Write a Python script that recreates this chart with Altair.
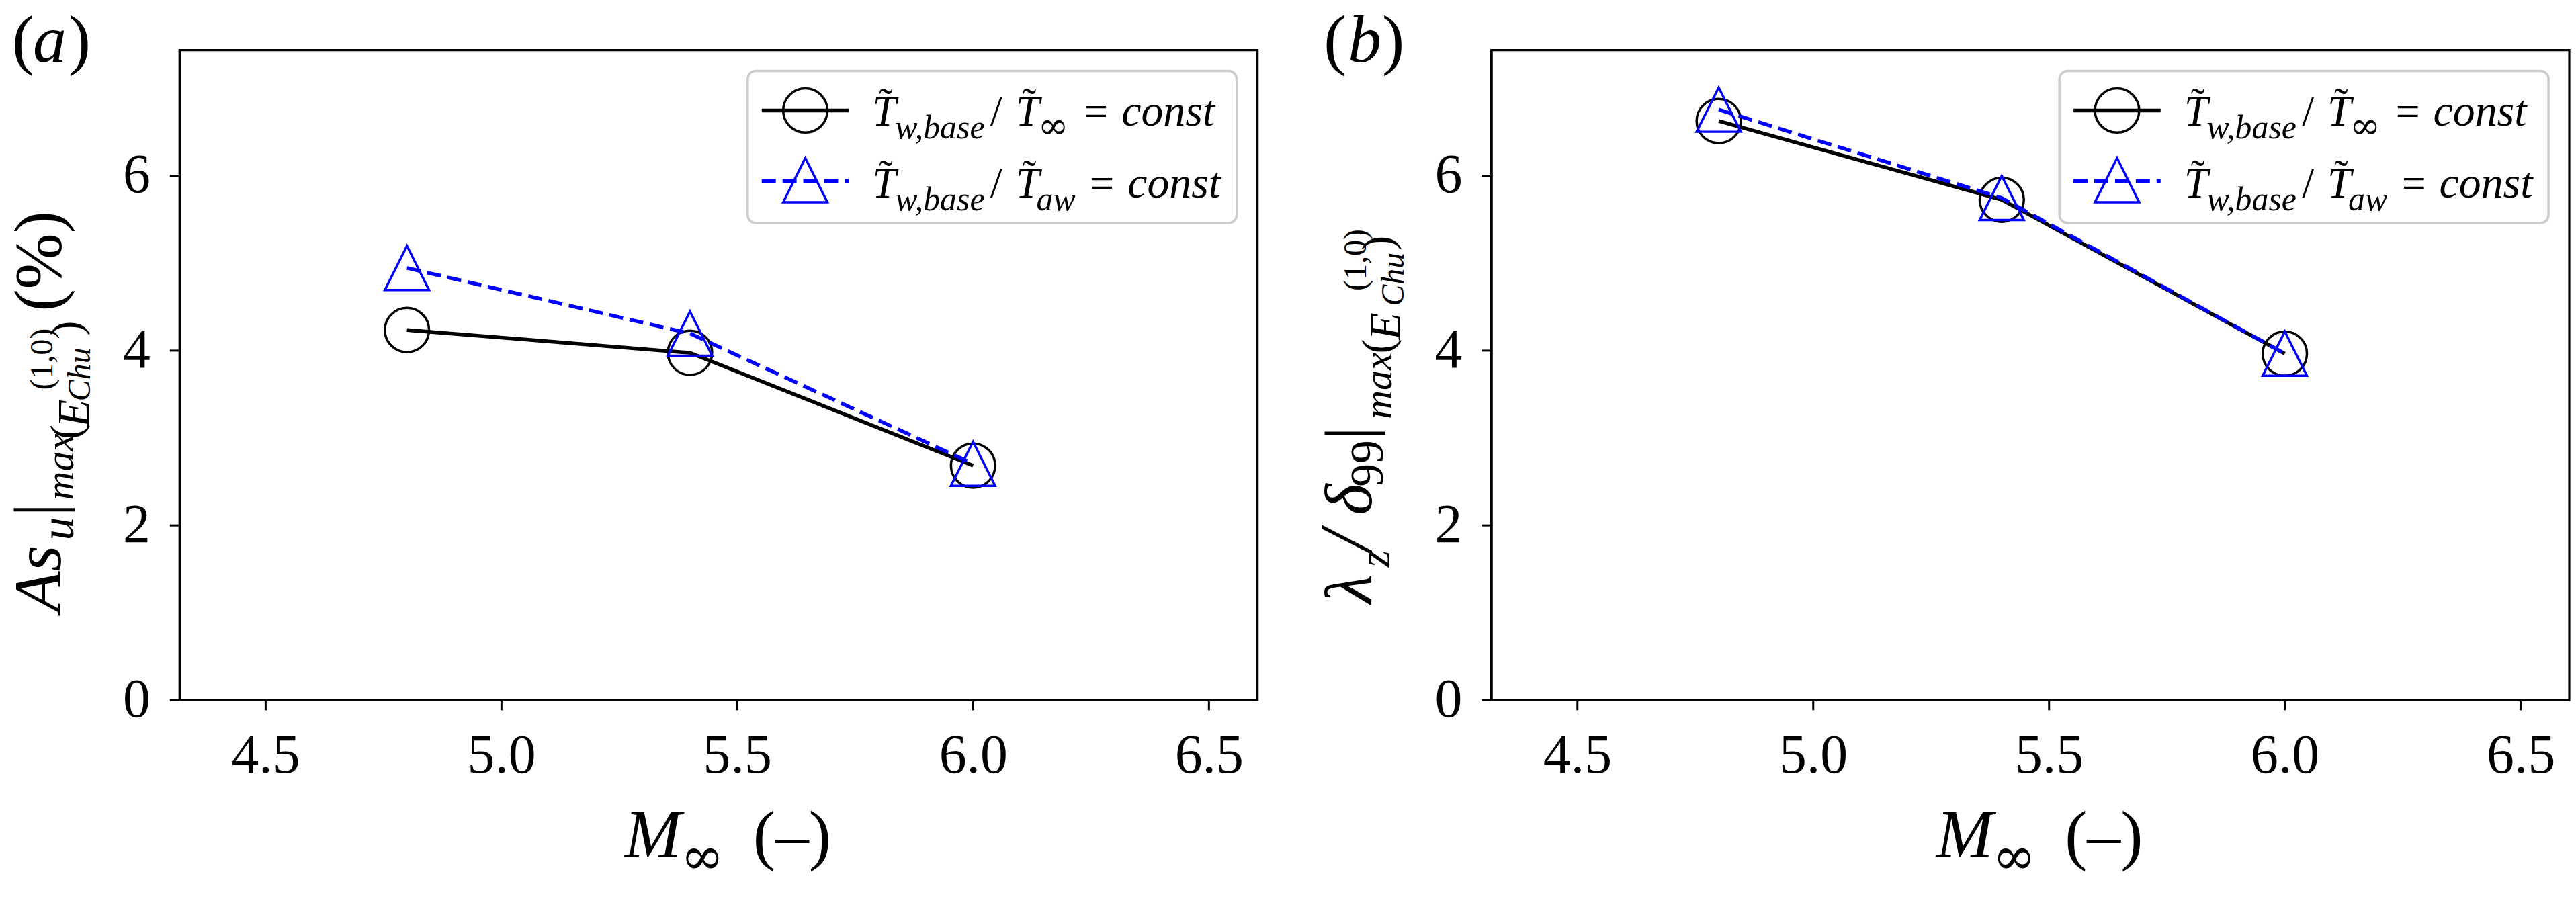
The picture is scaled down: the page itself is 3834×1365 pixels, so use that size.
import altair as alt
import pandas as pd

# ---------------- data ----------------
mach = [4.8, 5.4, 6.0]
asu_tinf = [4.23, 3.97, 2.68]
asu_taw = [4.94, 4.19, 2.70]
lam_tinf = [6.62, 5.72, 3.96]
lam_taw = [6.75, 5.74, 3.96]

x_ticks = [4.5, 5.0, 5.5, 6.0, 6.5]
y_ticks = [0, 2, 4, 6]
X_DOMAIN = [4.318, 6.603]
Y_DOMAIN = [0, 7.43]

# ---------------- style ----------------
W, H = 1609, 970
SERIF = "Liberation Serif"
SYM = "DejaVu Serif"
BLACK = "#000000"
BLUE = "#0000ff"
TRI = "M0,-1L-1,1L1,1Z"
MS = 66
LW = 5.5
DASH = [21, 10]

ONE = alt.Data(values=[{"k": 0}])


def txt(s, x, y, size, italic=False, angle=0, font=SERIF, color=BLACK):
    return alt.Chart(ONE).mark_text(
        text=s, font=font, fontSize=size,
        fontStyle="italic" if italic else "normal",
        angle=angle, align="left", baseline="alphabetic", color=color,
    ).encode(x=alt.value(x), y=alt.value(y))


def enc_x():
    return alt.X("M:Q", scale=alt.Scale(domain=X_DOMAIN, nice=False, zero=False),
                 axis=alt.Axis(values=x_ticks, format=".1f", title=None))


def enc_y():
    return alt.Y("v:Q", scale=alt.Scale(domain=Y_DOMAIN, nice=False, zero=False),
                 axis=alt.Axis(values=y_ticks, format="d", title=None))


def series_layers(vals, color, shape, dashed):
    df = pd.DataFrame({"M": mach, "v": vals})
    line_kw = dict(color=color, strokeWidth=LW)
    if dashed:
        line_kw["strokeDash"] = DASH
    line = alt.Chart(df).mark_line(**line_kw).encode(x=enc_x(), y=enc_y())
    pts = alt.Chart(df).mark_point(
        shape=shape, size=MS * MS, filled=False, stroke=color,
        strokeWidth=3.5, opacity=1,
    ).encode(x=enc_x(), y=enc_y())
    return [line, pts]


def legend_layers():
    box = alt.Chart(ONE).mark_rect(
        fill="white", fillOpacity=0.8, stroke="#cccccc", strokeWidth=3.5,
        cornerRadius=12,
    ).encode(x=alt.value(848), x2=alt.value(1578), y=alt.value(31), y2=alt.value(258))
    l1 = alt.Chart(ONE).mark_rule(color=BLACK, strokeWidth=LW).encode(
        x=alt.value(869), x2=alt.value(999), y=alt.value(90))
    p1 = alt.Chart(ONE).mark_point(shape="circle", size=MS * MS, filled=False,
                                   stroke=BLACK, strokeWidth=3.5, opacity=1).encode(
        x=alt.value(934), y=alt.value(90))
    l2 = alt.Chart(ONE).mark_rule(color=BLUE, strokeWidth=LW, strokeDash=DASH).encode(
        x=alt.value(869), x2=alt.value(999), y=alt.value(195))
    p2 = alt.Chart(ONE).mark_point(shape=TRI, size=MS * MS, filled=False,
                                   stroke=BLUE, strokeWidth=3.5, opacity=1).encode(
        x=alt.value(934), y=alt.value(194))
    out = [box, l1, p1, l2, p2]
    rows = [(113, 132, "\u221e", SYM, 56, 1281, 1350, 1406),
            (220, 239, "aw", SERIF, 50, 1279, 1359, 1415)]
    for base, sub, s2, f2, sz2, x2, xeq, xc in rows:
        out += [
            txt("T", 1034, base, 64, italic=True),
            txt("\u02dc", 1044, base - 13, 62),
            txt("w,base", 1068, sub, 50, italic=True),
            txt("/", 1210, base, 64),
            txt("T", 1248, base, 64, italic=True),
            txt("\u02dc", 1258, base - 13, 62),
            txt(s2, x2, sub, sz2, italic=(s2 == "aw"), font=f2),
            txt("=", xeq, base, 64),
            txt("const", xc, base, 66, italic=True),
        ]
    return out


def xtitle_layers():
    return [
        txt("M", 664, 1205, 102, italic=True),
        txt("\u221e", 748, 1230, 78, font=SYM),
        txt("(\u2013)", 856, 1205, 100),
    ]


def ytitle_a():
    A = 270
    return [
        txt("As", -178, 839, 100, italic=True, angle=A),
        txt("u", -159, 732, 70, italic=True, angle=A),
        txt("|", -178, 696, 100, angle=A),
        txt("max", -159, 672, 60, italic=True, angle=A),
        txt("(", -148, 581, 66, angle=A),
        txt("E", -136, 563, 68, italic=True, angle=A),
        txt("(1,0)", -190, 507, 48, angle=A),
        txt("Chu", -134, 524, 48, italic=True, angle=A),
        txt(")", -148, 426, 66, angle=A),
        txt("(%)", -178, 390, 100, angle=A),
    ]


def ytitle_b():
    A = 270
    return [
        txt("\u03bb", -179, 826, 100, italic=True, angle=A),
        txt("z", -152, 772, 66, italic=True, angle=A),
        txt("/", -179, 748, 110, italic=True, angle=A),
        txt("\u03b4", -179, 694, 100, italic=True, angle=A),
        txt("99", -162, 652, 70, angle=A),
        txt("|", -179, 582, 100, angle=A),
        txt("max", -149, 551, 60, italic=True, angle=A),
        txt("(", -148, 453, 66, angle=A),
        txt("E", -136, 433, 68, italic=True, angle=A),
        txt("(1,0)", -187, 359, 48, angle=A),
        txt("Chu", -131, 382, 48, italic=True, angle=A),
        txt(")", -148, 299, 66, angle=A),
    ]


def letter_layers(ch):
    return [
        txt("(", -250, 17, 100),
        txt(ch, -219 if ch == "a" else -214, 17, 100, italic=True),
        txt(")", -166 if ch == "a" else -163, 17, 100),
    ]


def panel(v1, v2, ch, ytitle):
    layers = (series_layers(v1, BLACK, "circle", False)
              + series_layers(v2, BLUE, TRI, True)
              + legend_layers() + xtitle_layers() + ytitle + letter_layers(ch))
    return alt.layer(*layers).properties(width=W, height=H)


pa = panel(asu_tinf, asu_taw, "a", ytitle_a())
pb = panel(lam_tinf, lam_taw, "b", ytitle_b())

chart = alt.hconcat(pa, pb, spacing=349, bounds="flush").properties(
    padding={"left": 0, "top": 0, "right": 0, "bottom": 0},
    autosize=alt.AutoSizeParams(type="pad"),
    background="white",
).configure_view(
    stroke=BLACK, strokeWidth=3.2,
).configure_axis(
    labelFont=SERIF, labelFontSize=82, labelColor=BLACK,
    tickColor=BLACK, domainColor=BLACK, tickWidth=3, domainWidth=3.2,
    tickSize=15, grid=False,
).configure_axisX(labelPadding=28).configure_axisY(labelPadding=29)

chart.save("out.html", embed_options={"renderer": "svg", "actions": False})
